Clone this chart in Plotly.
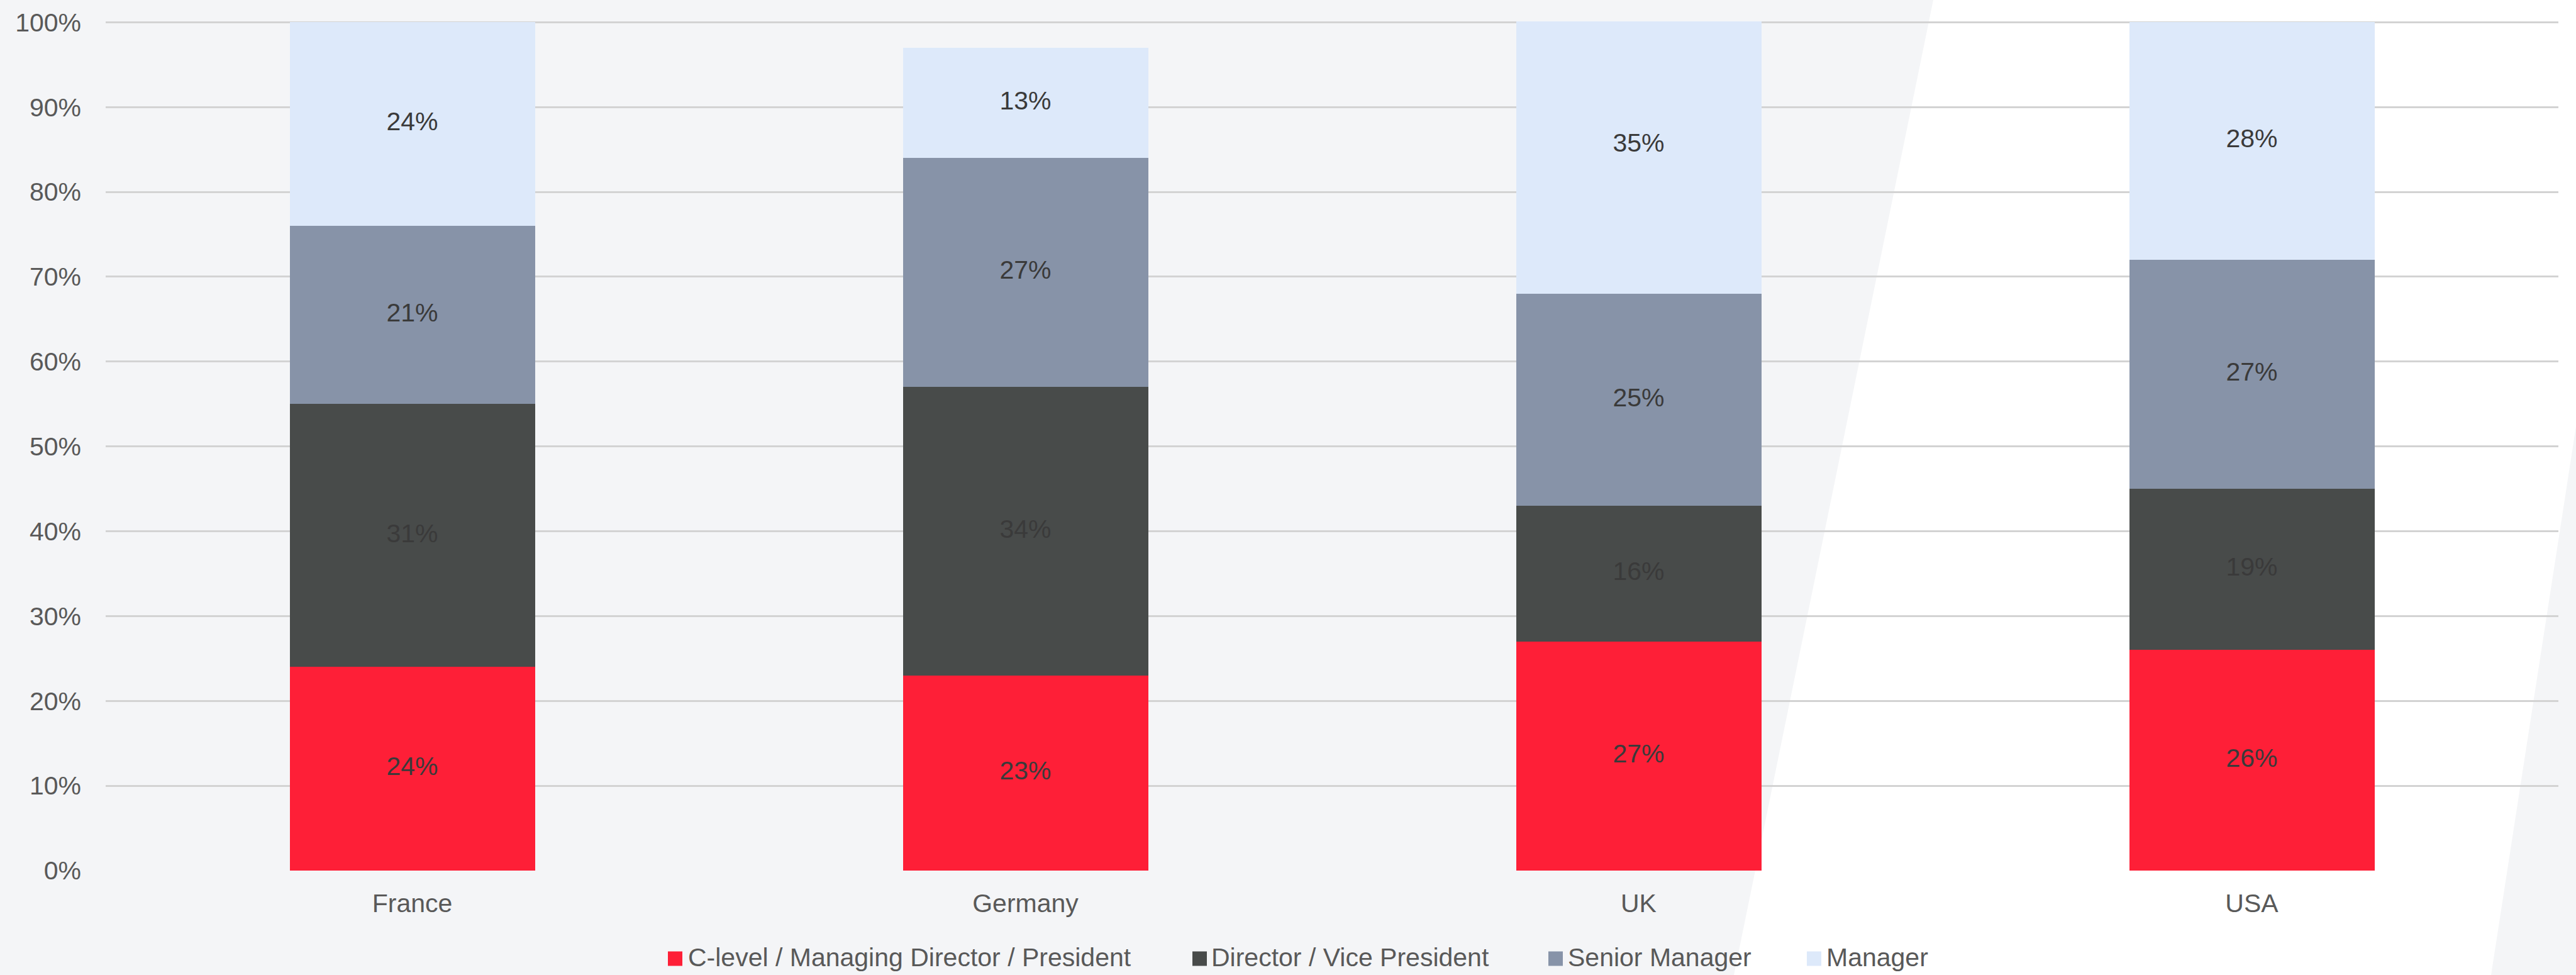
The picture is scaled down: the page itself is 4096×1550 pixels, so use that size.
import plotly.graph_objects as go

# ---------------- data ----------------
countries = ["France", "Germany", "UK", "USA"]
series_names = [
    "C-level / Managing Director / President",
    "Director / Vice President",
    "Senior Manager",
    "Manager",
]
c_level = [24, 23, 27, 26]
director_vp = [31, 34, 16, 19]
senior_manager = [21, 27, 25, 27]
manager = [24, 13, 35, 28]
y_ticks = [0, 10, 20, 30, 40, 50, 60, 70, 80, 90, 100]
y_tick_labels = [f"{t}%" for t in y_ticks]

series_values = [c_level, director_vp, senior_manager, manager]
series_colors = ["#FE1F37", "#484B4A", "#8793A8", "#DDE9FA"]

# ---------------- layout constants (px) ----------------
W, H = 4096, 1550
ML, MR, MT, MB = 168, 28, 34, 166
PW = W - ML - MR
PH = H - MT - MB
FONT = "Liberation Sans, Arial, Helvetica, sans-serif"
BG = "#F4F5F7"


def px_x(x):
    return (x - ML) / PW


def px_y(y):
    return (H - MB - y) / PH


fig = go.Figure()

# stacked bars
for name, vals, col in zip(series_names, series_values, series_colors):
    fig.add_trace(go.Bar(
        x=countries, y=vals, name=name,
        marker=dict(color=col, line=dict(width=0)),
        showlegend=False, hoverinfo="skip",
    ))

# data labels at segment midpoints
base = [0] * len(countries)
for vals in series_values:
    mids = [b + v / 2 for b, v in zip(base, vals)]
    fig.add_trace(go.Scatter(
        x=countries, y=mids, mode="text",
        text=[f"{v}%" for v in vals],
        textfont=dict(family=FONT, size=41, color="#3A3A3A"),
        showlegend=False, hoverinfo="skip", cliponaxis=False,
    ))
    base = [b + v for b, v in zip(base, vals)]

# background white slanted panel
poly = [(3074, 0), (W, 0), (W, 678), (3961, H), (2757, H)]
path = "M " + " L ".join(f"{px_x(x):.5f},{px_y(y):.5f}" for x, y in poly) + " Z"
shapes = [dict(type="path", xref="paper", yref="paper", path=path,
               fillcolor="#FFFFFF", line=dict(width=0), layer="below")]

# custom legend
sq_left = [1062, 1896, 2462, 2873]
txt_left = [1092, 1924, 2491, 2902]
leg_y = 1524
sq = 23
annotations = []
for name, col, sx, tx in zip(series_names, series_colors, sq_left, txt_left):
    shapes.append(dict(type="rect", xref="paper", yref="paper",
                       x0=px_x(sx), x1=px_x(sx + sq),
                       y0=px_y(leg_y + sq / 2), y1=px_y(leg_y - sq / 2),
                       fillcolor=col, line=dict(width=0), layer="above"))
    annotations.append(dict(xref="paper", yref="paper", x=px_x(tx), y=px_y(leg_y - 2),
                            text=name, showarrow=False, xanchor="left", yanchor="middle",
                            font=dict(family=FONT, size=41, color="#595959")))

fig.update_layout(
    width=W, height=H, autosize=False,
    margin=dict(l=ML, r=MR, t=MT, b=MB, pad=0),
    paper_bgcolor=BG, plot_bgcolor="rgba(0,0,0,0)",
    barmode="stack", bargap=0.6,
    font=dict(family=FONT, size=41, color="#595959"),
    shapes=shapes, annotations=annotations,
    showlegend=False,
)
fig.update_xaxes(
    showgrid=False, zeroline=False, showline=False, ticks="",
    tickfont=dict(family=FONT, size=41, color="#595959"),
    ticklabelstandoff=24,
)
fig.update_yaxes(
    range=[0, 100.1], tickvals=y_ticks, ticktext=y_tick_labels,
    showgrid=True, gridcolor="#D3D3D3", gridwidth=2.5,
    zeroline=False, showline=False, ticks="",
    tickfont=dict(family=FONT, size=41, color="#595959"),
    ticklabelstandoff=38,
)

fig.write_html("out.html")
